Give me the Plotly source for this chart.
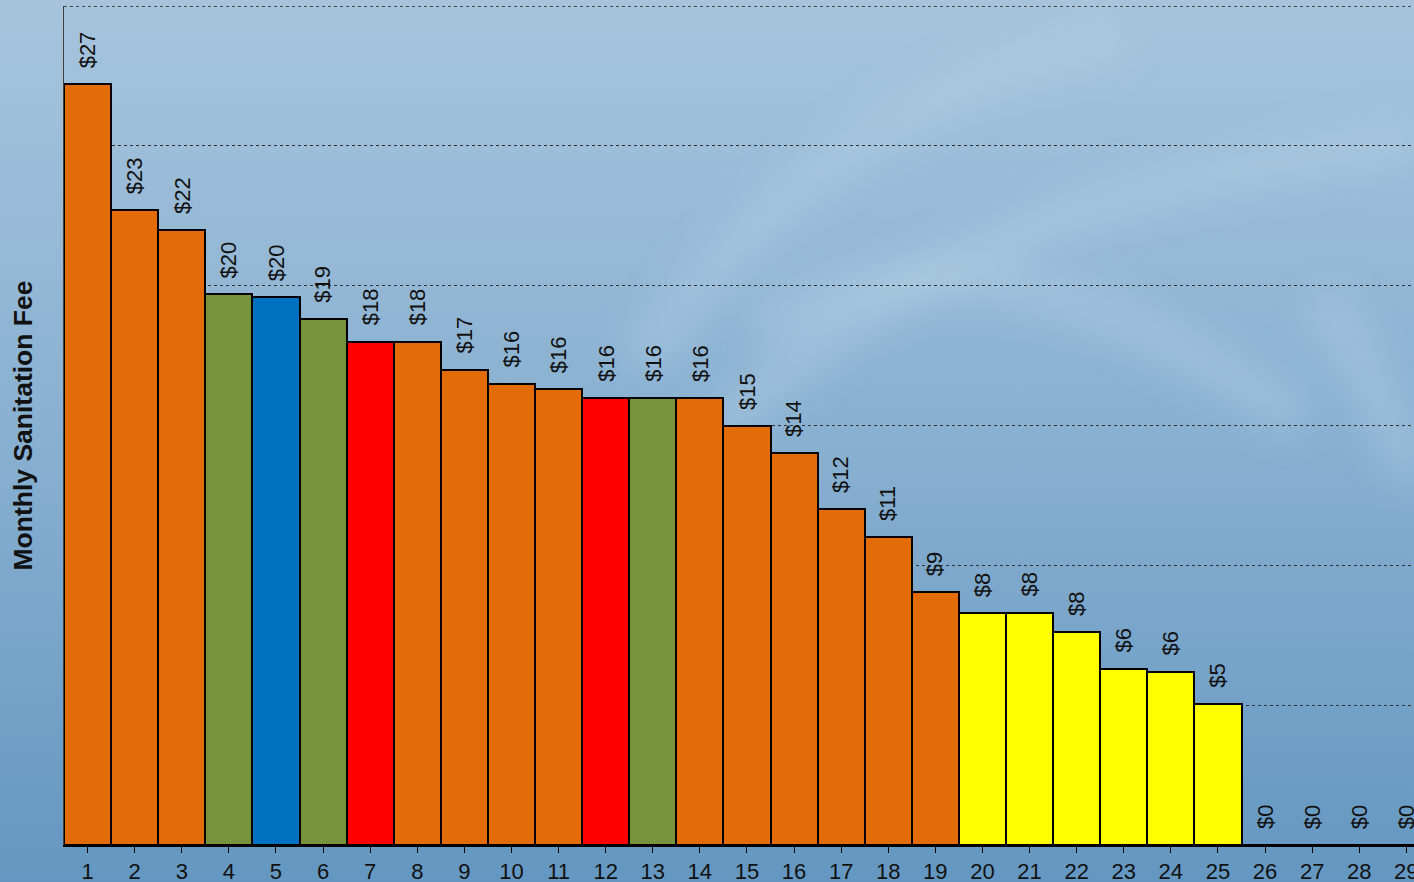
import base64
import plotly.graph_objects as go

# ---- data ----
categories = list(range(1, 30))
fees = [27.2, 22.7, 22.0, 19.7, 19.6, 18.8, 18.0, 18.0, 17.0, 16.5,
        16.3, 16.0, 16.0, 16.0, 15.0, 14.0, 12.0, 11.0, 9.05, 8.3,
        8.3, 7.6, 6.3, 6.2, 5.05, 0, 0, 0, 0]
fee_labels = ["$27", "$23", "$22", "$20", "$20", "$19", "$18", "$18", "$17", "$16",
              "$16", "$16", "$16", "$16", "$15", "$14", "$12", "$11", "$9", "$8",
              "$8", "$8", "$6", "$6", "$5", "$0", "$0", "$0", "$0"]
ORANGE, GREEN, BLUE, RED, YELLOW = "#E36C09", "#77933C", "#0070C0", "#FF0000", "#FFFF00"
bar_colors = [ORANGE, ORANGE, ORANGE, GREEN, BLUE, GREEN, RED, ORANGE, ORANGE, ORANGE,
              ORANGE, RED, GREEN, ORANGE, ORANGE, ORANGE, ORANGE, ORANGE, ORANGE, YELLOW,
              YELLOW, YELLOW, YELLOW, YELLOW, YELLOW, ORANGE, ORANGE, ORANGE, ORANGE]
y_title = "Monthly Sanitation Fee"
y_max = 30

W, H = 1414, 882
ML, MR, MT, MB = 64, 0, 6, 37
PW, PH = W - ML - MR, H - MT - MB

# background gradient (decorative)
svg = f'''<svg xmlns="http://www.w3.org/2000/svg" width="{W}" height="{H}" viewBox="0 0 {W} {H}">
<defs>
<linearGradient id="g" x1="0" y1="0" x2="0" y2="1">
<stop offset="0" stop-color="#a7c4dc"/>
<stop offset="0.5" stop-color="#88b0d1"/>
<stop offset="1" stop-color="#6497c1"/>
</linearGradient>
<filter id="b"><feGaussianBlur stdDeviation="18"/></filter>
</defs>
<rect width="{W}" height="{H}" fill="url(#g)"/>
<g filter="url(#b)" fill="none" stroke="#c4dbec" stroke-opacity="0.3" stroke-width="40">
<path d="M 640 360 C 760 200, 900 80, 1120 40"/>
<path d="M 700 450 C 850 300, 1000 200, 1414 140"/>
<path d="M 760 330 C 900 250, 1050 250, 1300 420"/>
<path d="M 1320 300 C 1360 350, 1390 420, 1414 480"/>
</g>
</svg>'''
bg_src = "data:image/svg+xml;base64," + base64.b64encode(svg.encode()).decode()

fig = go.Figure()
fig.add_trace(go.Bar(
    x=categories, y=fees,
    marker=dict(color=bar_colors, line=dict(color="#000000", width=2)),
    hoverinfo="skip",
))

for c, v, t in zip(categories, fees, fee_labels):
    fig.add_annotation(x=c, y=v, text=t, showarrow=False, textangle=-90,
                       xanchor="center", yanchor="bottom", yshift=14,
                       font=dict(family="Liberation Sans, Arial", size=22, color="#111111"))

# top frame: dotted line at the axis maximum
fig.add_shape(type="line", xref="paper", yref="y", x0=0, x1=1, y0=y_max, y1=y_max,
              line=dict(color="#222222", width=1.5, dash="dot"))

fig.add_layout_image(dict(source=bg_src, xref="paper", yref="paper",
                          x=-ML / PW, y=1 + MT / PH, sizex=W / PW, sizey=H / PH,
                          xanchor="left", yanchor="top", sizing="stretch", layer="below"))

fig.update_layout(
    width=W, height=H,
    margin=dict(l=ML, r=MR, t=MT, b=MB, autoexpand=False),
    paper_bgcolor="#88b0d1", plot_bgcolor="rgba(0,0,0,0)",
    bargap=0, showlegend=False,
    font=dict(family="Liberation Sans, Arial", color="#111111"),
)
fig.update_xaxes(
    range=[0.5, 0.5 + PW / 47.1], tickmode="array", tickvals=categories,
    ticktext=[str(c) for c in categories], ticklabeloverflow="allow",
    ticks="outside", tickson="boundaries", ticklen=6, tickcolor="#000000", tickwidth=1,
    showline=True, linecolor="#000000", linewidth=2, showgrid=False, zeroline=False,
    tickfont=dict(size=22, color="#111111"), automargin=False,
)
fig.update_yaxes(
    range=[0, y_max], dtick=5, showticklabels=False, ticks="",
    showgrid=True, gridcolor="#333333", gridwidth=1, griddash="dot",
    showline=True, linecolor="#404040", linewidth=1, zeroline=False,
    title=dict(text=f"<b>{y_title}</b>", font=dict(size=26.5, color="#111111"), standoff=22),
    automargin=False,
)

fig.write_html("out.html", config={"displayModeBar": False},
               post_script="document.body.style.margin='0';document.body.style.overflow='hidden';")
